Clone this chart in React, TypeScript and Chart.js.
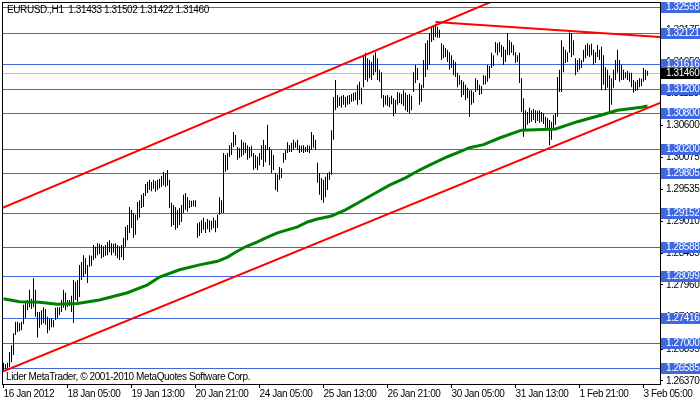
import React, { useEffect, useRef } from 'react';
import { Chart, registerables } from 'chart.js';
Chart.register(...registerables);

// ---- data (EURUSD H1, one value per bar) ----
const HIGH = [
1.2667,1.2665,1.2667,1.2685,1.2696,1.2716,1.2735,1.2735,1.2733,1.2735,
1.2763,1.2768,1.2771,1.2788,1.2773,1.2807,1.2788,1.2751,1.2751,1.2754,
1.2759,1.2756,1.2743,1.2740,1.2741,1.2738,1.2758,1.2759,1.2759,1.2771,
1.2788,1.2783,1.2771,1.2771,1.2778,1.2804,1.2801,1.2804,1.2829,1.2834,
1.2845,1.2840,1.2829,1.2845,1.2844,1.2862,1.2859,1.2865,1.2864,1.2862,
1.2860,1.2862,1.2867,1.2870,1.2865,1.2864,1.2865,1.2862,1.2860,1.2862,
1.2874,1.2892,1.2895,1.2925,1.2920,1.2915,1.2912,1.2933,1.2936,1.2945,
1.2948,1.2963,1.2966,1.2970,1.2966,1.2970,1.2968,1.2970,1.2971,1.2976,
1.2983,1.2981,1.2986,1.2970,1.2932,1.2928,1.2925,1.2920,1.2923,1.2928,
1.2945,1.2948,1.2941,1.2936,1.2935,1.2936,1.2936,1.2898,1.2900,1.2903,
1.2907,1.2900,1.2905,1.2903,1.2902,1.2907,1.2903,1.2912,1.2941,1.2936,
1.3014,1.3011,1.3014,1.3027,1.3031,1.3049,1.3044,1.3024,1.3022,1.3036,
1.3032,1.3031,1.3027,1.3024,1.3026,1.3014,1.3011,1.3008,1.3014,1.3027,
1.3036,1.3027,1.3061,1.3024,1.3019,1.3011,1.2981,1.2978,1.2991,1.2989,
1.3014,1.3019,1.3032,1.3027,1.3031,1.3036,1.3032,1.3036,1.3027,1.3026,
1.3027,1.3024,1.3027,1.3026,1.3049,1.3044,1.3036,1.2998,1.2981,1.2973,
1.2970,1.2975,1.2981,1.2983,1.3052,1.3107,1.3135,1.3110,1.3107,1.3109,
1.3110,1.3107,1.3109,1.3110,1.3112,1.3114,1.3115,1.3127,1.3132,1.3122,
1.3176,1.3180,1.3171,1.3168,1.3165,1.3176,1.3181,1.3171,1.3152,1.3148,
1.3110,1.3109,1.3110,1.3107,1.3109,1.3105,1.3102,1.3115,1.3114,1.3112,
1.3118,1.3114,1.3110,1.3112,1.3109,1.3148,1.3160,1.3155,1.3130,1.3127,
1.3168,1.3196,1.3201,1.3213,1.3221,1.3226,1.3228,1.3223,1.3218,1.3196,
1.3193,1.3188,1.3185,1.3181,1.3176,1.3168,1.3165,1.3147,1.3143,1.3135,
1.3132,1.3127,1.3122,1.3118,1.3118,1.3115,1.3138,1.3135,1.3127,1.3125,
1.3143,1.3142,1.3160,1.3158,1.3180,1.3176,1.3198,1.3196,1.3198,1.3193,
1.3190,1.3185,1.3213,1.3201,1.3198,1.3193,1.3181,1.3176,1.3180,1.3138,
1.3105,1.3085,1.3082,1.3089,1.3085,1.3087,1.3085,1.3084,1.3085,1.3082,
1.3080,1.3074,1.3072,1.3069,1.3066,1.3077,1.3080,1.3140,1.3152,1.3201,
1.3190,1.3185,1.3181,1.3214,1.3213,1.3201,1.3171,1.3168,1.3171,1.3168,
1.3185,1.3193,1.3196,1.3193,1.3195,1.3185,1.3181,1.3193,1.3185,1.3190,
1.3176,1.3156,1.3152,1.3143,1.3138,1.3152,1.3168,1.3185,1.3168,1.3160,
1.3152,1.3148,1.3150,1.3147,1.3147,1.3135,1.3132,1.3135,1.3138,1.3137,
1.3155,1.3152,1.31502];

const LOW = [
1.2655,1.2657,1.2658,1.2660,1.2668,1.2680,1.2713,1.2718,1.2719,1.2721,
1.2731,1.2741,1.2754,1.2759,1.2756,1.2759,1.2743,1.2709,1.2725,1.2730,
1.2733,1.2730,1.2716,1.2721,1.2726,1.2726,1.2738,1.2741,1.2746,1.2751,
1.2758,1.2754,1.2759,1.2761,1.2751,1.2733,1.2771,1.2768,1.2776,1.2804,
1.2809,1.2814,1.2799,1.2826,1.2827,1.2837,1.2840,1.2845,1.2847,1.2840,
1.2842,1.2844,1.2845,1.2850,1.2845,1.2849,1.2844,1.2840,1.2837,1.2842,
1.2837,1.2859,1.2870,1.2882,1.2890,1.2874,1.2879,1.2903,1.2907,1.2923,
1.2925,1.2943,1.2948,1.2953,1.2951,1.2955,1.2950,1.2953,1.2956,1.2958,
1.2961,1.2958,1.2960,1.2923,1.2892,1.2895,1.2887,1.2890,1.2895,1.2900,
1.2915,1.2920,1.2917,1.2923,1.2925,1.2926,1.2925,1.2874,1.2877,1.2882,
1.2887,1.2882,1.2888,1.2883,1.2887,1.2890,1.2883,1.2890,1.2912,1.2915,
1.2915,1.2983,1.2986,1.3008,1.3011,1.3024,1.3027,1.3003,1.3006,1.3008,
1.3011,1.3014,1.3003,1.3006,1.3008,1.2986,1.2989,1.2986,1.2994,1.3003,
1.2991,1.2999,1.3019,1.2994,1.2981,1.2986,1.2953,1.2950,1.2970,1.2973,
1.2998,1.3003,1.3014,1.3016,1.3016,1.3019,1.3023,1.3019,1.3014,1.3016,
1.3014,1.3016,1.3016,1.3014,1.3019,1.3023,1.3019,1.2965,1.2945,1.2936,
1.2932,1.2941,1.2953,1.2970,1.2978,1.3036,1.3085,1.3089,1.3092,1.3089,
1.3094,1.3090,1.3094,1.3095,1.3099,1.3100,1.3102,1.3094,1.3102,1.3095,
1.3123,1.3135,1.3132,1.3138,1.3135,1.3143,1.3148,1.3135,1.3132,1.3105,
1.3090,1.3094,1.3092,1.3090,1.3095,1.3075,1.3080,1.3094,1.3097,1.3095,
1.3092,1.3085,1.3082,1.3080,1.3085,1.3115,1.3130,1.3135,1.3094,1.3099,
1.3122,1.3140,1.3152,1.3160,1.3198,1.3201,1.3206,1.3205,1.3205,1.3168,
1.3171,1.3173,1.3165,1.3152,1.3155,1.3143,1.3140,1.3123,1.3127,1.3107,
1.3110,1.3102,1.3105,1.3074,1.3094,1.3097,1.3115,1.3118,1.3110,1.3112,
1.3127,1.3128,1.3132,1.3138,1.3155,1.3158,1.3180,1.3176,1.3181,1.3173,
1.3160,1.3165,1.3176,1.3176,1.3180,1.3176,1.3163,1.3165,1.3130,1.3082,
1.3041,1.3052,1.3061,1.3064,1.3066,1.3069,1.3064,1.3067,1.3064,1.3066,
1.3062,1.3056,1.3052,1.3027,1.3036,1.3052,1.3061,1.3074,1.3115,1.3115,
1.3148,1.3163,1.3165,1.3180,1.3173,1.3176,1.3143,1.3148,1.3152,1.3155,
1.3165,1.3171,1.3175,1.3173,1.3176,1.3160,1.3163,1.3173,1.3168,1.3118,
1.3127,1.3118,1.3122,1.3082,1.3094,1.3122,1.3135,1.3147,1.3132,1.3135,
1.3135,1.3138,1.3135,1.3132,1.3123,1.3114,1.3117,1.3118,1.3123,1.3125,
1.3132,1.3135,1.31422];

// moving average (bar index -> value)
const MA_IDX = [0,8,18,27,37,48,62,72,78,88,98,107,112,116,121,127,132,137,142,147,152,157,164,171,178,186,193,201,208,213,222,228,233,240,248,259,276,287,299,307,319,322];
const MA_VAL = [1.2773,1.2768,1.2767,1.2764,1.2765,1.2771,1.2783,1.2796,1.2809,1.2821,1.2829,1.2835,1.2842,1.2850,1.2859,1.2867,1.2875,1.2882,1.2887,1.2892,1.2900,1.2905,1.2910,1.2920,1.2933,1.2948,1.2961,1.2973,1.2986,1.2994,1.3008,1.3016,1.3023,1.3028,1.3039,1.3052,1.3054,1.3066,1.3077,1.3085,1.3090,1.3092];

// trend lines (bar index, price)
const UPPER_X = [-0.75, 250];
const UPPER_Y = [1.2923, 1.3273];
const LOWER_X = [-0.75, 328.25];
const LOWER_Y = [1.2652, 1.3097];
const RESIST_X = [216, 328.25];
const RESIST_Y = [1.3231, 1.3206];

// horizontal levels
const LEVELS = [1.32558, 1.32121, 1.31616, 1.31200, 1.30800, 1.30200, 1.29805, 1.29152, 1.28588, 1.28099, 1.27416, 1.27000, 1.26585];
const BID = 1.31460;

const Y_TICKS = [1.26370, 1.26895, 1.27430, 1.27960, 1.28485, 1.29010, 1.29535, 1.30075, 1.30600, 1.31125, 1.31650, 1.32175];
const X_TICK_IDX = [0, 32, 64, 96, 128, 160, 192, 224, 256, 288, 320];
const X_TICK_LABELS = ['16 Jan 2012', '18 Jan 05:00', '19 Jan 13:00', '20 Jan 21:00', '24 Jan 05:00', '25 Jan 13:00', '26 Jan 21:00', '30 Jan 05:00', '31 Jan 13:00', '1 Feb 21:00', '3 Feb 05:00'];

const TITLE = 'EURUSD.,H1  1.31433 1.31502 1.31422 1.31460';
const COPYRIGHT = 'Lider MetaTrader, \u00A9 2001-2010 MetaQuotes Software Corp.';

const FONT_FAMILY = "'Liberation Sans', Arial, sans-serif";
const FONT_SIZE = 10;
const SPACING = '-0.4px';
const BLUE = '#3f68e0';

const setSpacing = (chart: any) => {
  const ctx = chart.ctx as any;
  if (ctx && 'letterSpacing' in ctx) ctx.letterSpacing = SPACING;
};

const mtPlugin = {
  id: 'mtDecor',
  beforeUpdate(chart: any) { setSpacing(chart); },
  beforeLayout(chart: any) { setSpacing(chart); },
  beforeDraw(chart: any) { setSpacing(chart); },
  beforeDatasetsDraw(chart: any) {
    const { ctx, chartArea: a, scales } = chart;
    const y = scales.y;
    ctx.save();
    ctx.beginPath();
    ctx.rect(a.left, a.top, a.right - a.left, a.bottom - a.top);
    ctx.clip();
    ctx.lineWidth = 1;
    const hline = (v: number, color: string) => {
      const py = Math.round(y.getPixelForValue(v)) + 0.5;
      ctx.strokeStyle = color;
      ctx.beginPath();
      ctx.moveTo(a.left, py);
      ctx.lineTo(a.right, py);
      ctx.stroke();
    };
    hline(BID, '#c0c0c0');
    LEVELS.forEach((v) => hline(v, BLUE));
    ctx.restore();
  },
  afterDraw(chart: any) {
    const { ctx, chartArea: a, scales } = chart;
    const y = scales.y;
    ctx.save();
    setSpacing(chart);
    ctx.strokeStyle = '#000';
    ctx.lineWidth = 1;
    ctx.strokeRect(a.left + 0.5, a.top + 0.5, a.right - a.left, a.bottom - a.top);
    ctx.font = `${FONT_SIZE}px ${FONT_FAMILY}`;
    ctx.textBaseline = 'middle';
    ctx.textAlign = 'left';
    const box = (v: number, bg: string) => {
      const row = Math.round(y.getPixelForValue(v));
      ctx.fillStyle = bg;
      ctx.fillRect(a.right + 1, row - 5, chart.width - a.right - 1, 11);
      ctx.fillStyle = '#fff';
      ctx.fillText(v.toFixed(5), a.right + 6, row + 0.5);
    };
    LEVELS.forEach((v) => box(v, BLUE));
    box(BID, '#000');
    ctx.fillStyle = '#000';
    ctx.fillText(TITLE, a.left + 5, a.top + 8);
    ctx.fillText(COPYRIGHT, a.left + 4, a.bottom - 7);
    ctx.restore();
  },
};

export default function App() {
  const ref = useRef<HTMLCanvasElement | null>(null);
  useEffect(() => {
    if (!ref.current) return;
    const bars = HIGH.map((h, i) => ({ x: i, y: [LOW[i], h] }));
    const ma = MA_IDX.map((x, k) => ({ x, y: MA_VAL[k] }));
    const seg = (xs: number[], ys: number[]) => xs.map((x, k) => ({ x, y: ys[k] }));
    const lineDs = (data: any, color: string, width: number, order: number) => ({
      type: 'line' as const,
      data,
      borderColor: color,
      borderWidth: width,
      pointRadius: 0,
      tension: 0,
      fill: false,
      order,
      clip: 0,
    });
    const chart = new Chart(ref.current, {
      type: 'bar',
      data: {
        datasets: [
          lineDs(seg(UPPER_X, UPPER_Y), '#ff0000', 2, 1),
          lineDs(seg(LOWER_X, LOWER_Y), '#ff0000', 2, 1),
          lineDs(seg(RESIST_X, RESIST_Y), '#ff0000', 2, 1),
          lineDs(ma, '#008000', 3, 5),
          {
            type: 'bar' as const,
            data: bars as any,
            backgroundColor: '#000',
            borderWidth: 0,
            barThickness: 1,
            inflateAmount: 0,
            grouped: false,
            order: 10,
          } as any,
        ],
      },
      options: {
        animation: false,
        responsive: false,
        maintainAspectRatio: false,
        events: [],
        layout: { padding: { left: 2, top: 2, right: 0, bottom: 0 }, autoPadding: false } as any,
        plugins: { legend: { display: false }, tooltip: { enabled: false }, title: { display: false } },
        scales: {
          x: {
            type: 'linear',
            min: -0.75,
            max: 328.25,
            offset: false,
            grid: { display: true, drawOnChartArea: false, drawTicks: true, tickLength: 4, color: '#000', offset: false },
            border: { display: false },
            ticks: {
              autoSkip: false,
              maxRotation: 0,
              minRotation: 0,
              align: 'start',
              padding: 0,
              color: '#000',
              font: { family: FONT_FAMILY, size: FONT_SIZE },
              callback: (v: any) => {
                const k = X_TICK_IDX.indexOf(Number(v));
                return k >= 0 ? X_TICK_LABELS[k] : '';
              },
            },
            afterBuildTicks: (s: any) => { s.ticks = X_TICK_IDX.map((v) => ({ value: v })); },
            afterFit: (s: any) => { s.height = 18; s.paddingLeft = 0; s.paddingRight = 0; },
          },
          y: {
            type: 'linear',
            position: 'right',
            min: 1.26319,
            max: 1.32641,
            grid: { display: true, drawOnChartArea: false, drawTicks: true, tickLength: 3, color: '#000' },
            border: { display: false },
            ticks: {
              autoSkip: false,
              padding: 3,
              color: '#000',
              font: { family: FONT_FAMILY, size: FONT_SIZE },
              callback: (v: any) => Number(v).toFixed(5),
            },
            afterBuildTicks: (s: any) => { s.ticks = Y_TICKS.map((v) => ({ value: v })); },
            afterFit: (s: any) => { s.width = 40; s.paddingTop = 0; s.paddingBottom = 0; },
          },
        },
      } as any,
      plugins: [mtPlugin],
    });
    return () => chart.destroy();
  }, []);
  return (
    <div style={{ position: 'absolute', left: 0, top: 0, width: 700, height: 402, background: '#fff' }}>
      <canvas ref={ref} width={700} height={402} style={{ display: 'block', width: 700, height: 402 }} />
    </div>
  );
}
